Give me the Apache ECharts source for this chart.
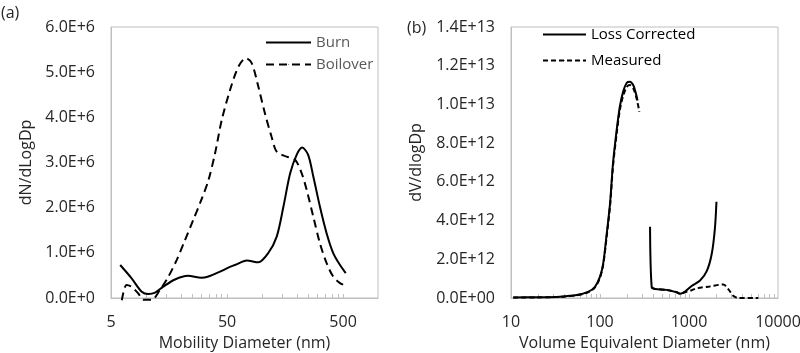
<!DOCTYPE html>
<html>
<head>
<meta charset="utf-8">
<script src="https://cdn.jsdelivr.net/npm/echarts@6/dist/echarts.min.js"></script>
<style>
    html, body { margin: 0; padding: 0; background: #fff; }
    #chart { width: 800px; height: 353px; }
</style>
</head>
<body>
<div id="chart"></div>
<script>
// (a) number size distributions, dN/dLogDp in units of 1E6
const burnD = [6.0, 7.5, 9.2, 10.5, 12, 14.1, 17.8, 23, 30, 34, 45, 53, 58.5, 74, 93, 113, 134, 153, 175, 199, 222, 250, 277, 316, 361, 412, 471, 527]
const burnN = [0.73, 0.44, 0.14, 0.09, 0.12, 0.25, 0.41, 0.49, 0.45, 0.47, 0.6, 0.69, 0.73, 0.83, 0.79, 0.99, 1.36, 2.02, 2.76, 3.17, 3.33, 3.17, 2.69, 2.02, 1.43, 0.99, 0.73, 0.55]
const boilD = [6.2, 6.8, 7.5, 8.6, 9.5, 11.2, 13.2, 15.6, 18.4, 21.7, 25.6, 30.3, 34.5, 39.4, 45, 53, 62.6, 72.5, 81.6, 93, 106, 121, 134, 163, 193, 220, 243, 277, 316, 361, 412, 471, 527]
const boilN = [-0.05, 0.29, 0.25, 0.1, -0.04, -0.04, 0.18, 0.47, 0.84, 1.28, 1.73, 2.2, 2.6, 3.2, 3.94, 4.6, 5.12, 5.31, 5.2, 4.68, 4.09, 3.57, 3.24, 3.13, 3.06, 2.76, 2.39, 1.8, 1.21, 0.77, 0.47, 0.33, 0.27]

// (b) volume distributions, dV/dlogDp in units of 1E12 (two size ranges each)
const lossFineD = [10.6, 20, 35.5, 54.7, 74.3, 87.8, 100, 108.7, 118, 129.7, 140, 154, 167, 182, 200, 217, 236, 252, 264]
const lossFineV = [0.03, 0.04, 0.07, 0.15, 0.33, 0.58, 1.1, 1.79, 3.17, 4.89, 6.96, 8.68, 9.88, 10.66, 11.12, 11.17, 11.0, 10.6, 10.2]
const measFineD = [10.6, 20, 35.5, 54.7, 74.3, 87.8, 100, 108.7, 118, 129.7, 140, 154, 167, 182, 200, 217, 236, 258, 277]
const measFineV = [0.02, 0.03, 0.06, 0.14, 0.3, 0.55, 1.05, 1.72, 3.05, 4.75, 6.8, 8.5, 9.7, 10.45, 10.9, 11.0, 10.85, 10.3, 9.62]
const lossCoarseD = [365, 381, 415, 558, 727, 792, 903, 1070, 1332, 1587, 1804, 1955, 2035]
const lossCoarseV = [3.68, 0.55, 0.47, 0.42, 0.3, 0.22, 0.33, 0.62, 0.9, 1.4, 2.3, 3.6, 4.97]
const measCoarseD = [381, 415, 558, 727, 792, 903, 1070, 1222, 1718, 2420, 2774, 3160, 3590, 6000]
const measCoarseV = [0.55, 0.47, 0.42, 0.3, 0.22, 0.3, 0.4, 0.5, 0.6, 0.7, 0.45, 0.1, 0, 0]

// axis labels / ticks
const aLabels = [5, 50, 500]
const aTicks = [10, 15, 20, 25, 30, 35, 40, 45, 50, 100, 150, 200, 250, 300, 350, 400, 450, 500]
const bLabels = [10, 100, 1000, 10000]
const bTicks = [20, 30, 40, 50, 60, 70, 80, 90, 100, 200, 300, 400, 500, 600, 700, 800, 900, 1000, 2000, 3000, 4000, 5000, 6000, 7000, 8000, 9000]

const zip = (xs, ys, k) => xs.map((x, i) => [x, ys[i] * k])

const font = 'Open Sans'
const gray = '#bfbfbf'
const txt = '#262626'

function xAxisOf(idx, name, min, max, labels, ticks) {
    return {
        type: 'log',
        gridIndex: idx,
        min: min,
        max: max,
        name: name,
        nameLocation: 'middle',
        nameGap: 37,
        nameTextStyle: { fontFamily: font, fontSize: 16, color: txt },
        axisLine: { show: true, lineStyle: { color: gray } },
        axisTick: { show: true, inside: true, length: 4, lineStyle: { color: gray }, customValues: ticks },
        axisLabel: {
            show: true, margin: 16, fontFamily: font, fontSize: 16, color: txt,
            customValues: labels,
            formatter: v => String(Math.round(v))
        },
        splitLine: { show: false },
        minorTick: { show: false }
    }
}

function yAxisOf(idx, name, max, interval, gap, fmt) {
    return {
        type: 'value',
        gridIndex: idx,
        min: 0,
        max: max,
        interval: interval,
        name: name,
        nameLocation: 'middle',
        nameGap: gap,
        nameTextStyle: { fontFamily: font, fontSize: 16, color: txt },
        axisLine: { show: true, lineStyle: { color: gray } },
        axisTick: { show: false },
        axisLabel: { margin: 16, fontFamily: font, fontSize: 16, color: txt, formatter: fmt },
        splitLine: { show: false }
    }
}

const chart = echarts.init(document.getElementById('chart'))

const option = {
    animation: false,
    backgroundColor: '#fff',
    title: [
        { text: '(a)', left: -4, top: 0, textStyle: { fontFamily: font, fontSize: 16, fontWeight: 'normal', color: txt } },
        { text: '(b)', left: 402, top: 15, textStyle: { fontFamily: font, fontSize: 16, fontWeight: 'normal', color: txt } }
    ],
    grid: [
        { left: 111, top: 27, width: 267, height: 271, show: true, borderColor: gray, borderWidth: 1, outerBoundsMode: 'none' },
        { left: 511, top: 27, width: 267, height: 271, show: true, borderColor: gray, borderWidth: 1, outerBoundsMode: 'none' }
    ],
    legend: [
        {
            left: 260, top: 30, orient: 'vertical', itemWidth: 45, itemHeight: 1, itemGap: 7,
            textStyle: { fontFamily: font, fontSize: 15, color: '#595959' },
            data: ['Burn', 'Boilover']
        },
        {
            left: 537, top: 22, orient: 'vertical', itemWidth: 43, itemHeight: 1, itemGap: 11,
            textStyle: { fontFamily: font, fontSize: 15, color: '#000' },
            data: ['Loss Corrected', 'Measured']
        }
    ],
    xAxis: [
        xAxisOf(0, 'Mobility Diameter (nm)', 5, 1000, aLabels, aTicks),
        xAxisOf(1, 'Volume Equivalent Diameter (nm)', 10, 10000, bLabels, bTicks)
    ],
    yAxis: [
        yAxisOf(0, 'dN/dLogDp', 6e6, 1e6, 77, v => v.toExponential(1).toUpperCase()),
        yAxisOf(1, 'dV/dlogDp', 1.4e13, 2e12, 87,
            v => v.toExponential(1).toUpperCase().replace(/E([+-])(\d)$/, 'E$10$2'))
    ],
    series: [
        {
            name: 'Burn', type: 'line', xAxisIndex: 0, yAxisIndex: 0, smooth: 0.3, symbol: 'none', clip: false,
            lineStyle: { color: '#000', width: 2 }, itemStyle: { color: '#000' },
            data: zip(burnD, burnN, 1e6)
        },
        {
            name: 'Boilover', type: 'line', xAxisIndex: 0, yAxisIndex: 0, smooth: 0.3, symbol: 'none', clip: false,
            lineStyle: { color: '#000', width: 2, type: [8, 5] }, itemStyle: { color: '#000' },
            data: zip(boilD, boilN, 1e6)
        },
        {
            name: 'Loss Corrected', type: 'line', xAxisIndex: 1, yAxisIndex: 1, smooth: 0.3, symbol: 'none',
            lineStyle: { color: '#000', width: 2 }, itemStyle: { color: '#000' },
            data: zip(lossFineD, lossFineV, 1e12)
        },
        {
            name: 'Loss Corrected', type: 'line', xAxisIndex: 1, yAxisIndex: 1, smooth: 0.3, symbol: 'none',
            lineStyle: { color: '#000', width: 2 }, itemStyle: { color: '#000' },
            data: zip(lossCoarseD, lossCoarseV, 1e12)
        },
        {
            name: 'Measured', type: 'line', xAxisIndex: 1, yAxisIndex: 1, smooth: 0.3, symbol: 'none',
            lineStyle: { color: '#000', width: 2, type: [5, 3] }, itemStyle: { color: '#000' },
            data: zip(measFineD, measFineV, 1e12)
        },
        {
            name: 'Measured', type: 'line', xAxisIndex: 1, yAxisIndex: 1, smooth: 0.3, symbol: 'none',
            lineStyle: { color: '#000', width: 2, type: [5, 3] }, itemStyle: { color: '#000' },
            data: zip(measCoarseD, measCoarseV, 1e12)
        }
    ]
}
chart.setOption(option)
</script>
</body>
</html>
